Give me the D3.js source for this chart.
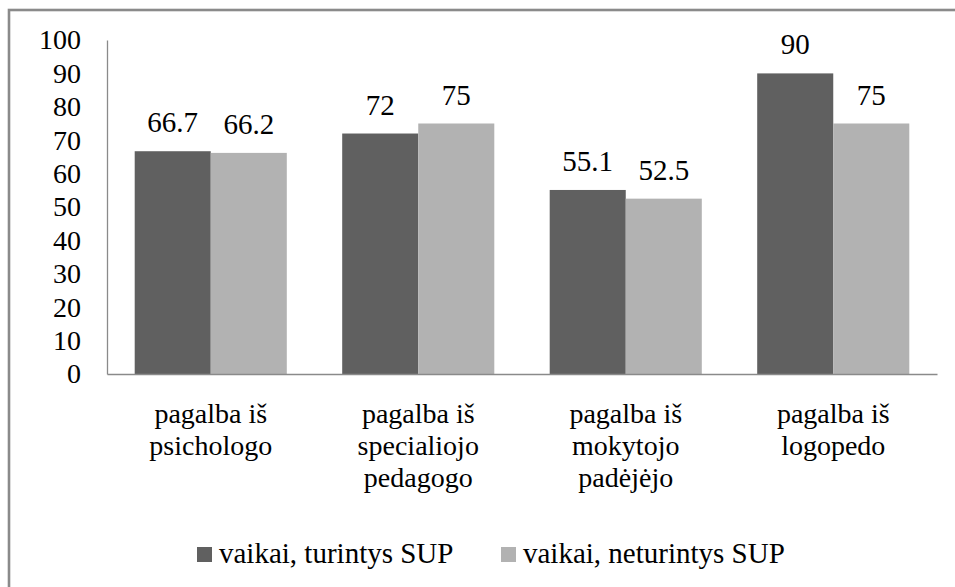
<!DOCTYPE html>
<html>
<head>
<meta charset="utf-8">
<script src="https://cdn.jsdelivr.net/npm/d3@7"></script>
<style>
  html, body { margin: 0; padding: 0; background: #fff; }
  svg { display: block; }
</style>
</head>
<body>
<svg id="chart" width="955" height="587"></svg>
<script>
const categories = [
  ["pagalba iš", "psichologo"],
  ["pagalba iš", "specialiojo", "pedagogo"],
  ["pagalba iš", "mokytojo", "padėjėjo"],
  ["pagalba iš", "logopedo"]
];
const seriesNames = ["vaikai, turintys SUP", "vaikai, neturintys SUP"];
const seriesTurintys = [66.7, 72, 55.1, 90];
const seriesNeturintys = [66.2, 75, 52.5, 75];
const seriesColors = ["#606060", "#b2b2b2"];
const yTicks = [0, 10, 20, 30, 40, 50, 60, 70, 80, 90, 100];

const FONT = "'Liberation Serif', 'Times New Roman', Tinos, 'DejaVu Serif', serif";
const svg = d3.select("#chart").attr("font-family", FONT).style("font-family", FONT);

// outer border
svg.append("rect")
  .attr("x", 9).attr("y", 10)
  .attr("width", 960).attr("height", 600)
  .attr("fill", "#fff")
  .attr("stroke", "#8a8a8a")
  .attr("stroke-width", 2.6);

const plot = { left: 107, right: 937, top: 40, bottom: 374 };

const catIdx = categories.map((d, i) => i);
const x0 = d3.scaleBand().domain(catIdx).range([plot.left, plot.right]).paddingInner(0.267).paddingOuter(0.1335);
const x1 = d3.scaleBand().domain([0, 1]).range([0, x0.bandwidth()]).padding(0);
const y = d3.scaleLinear().domain([0, 100]).range([plot.bottom, plot.top]);

function styleText(sel, size) {
  sel.attr("font-family", FONT).style("font-family", FONT)
     .style("font-size", (size || 28) + "px").attr("fill", "#000");
}

// y axis
const yAxis = d3.axisLeft(y).tickValues(yTicks).tickSize(0).tickPadding(26).tickFormat(d3.format("d"));
const gy = svg.append("g").attr("transform", `translate(${plot.left},0)`).call(yAxis);
gy.attr("font-family", FONT);
gy.select(".domain").attr("stroke", "#8a8a8a").attr("stroke-width", 1.3);
gy.selectAll("text").call(styleText, 28);

// bars
const series = [seriesTurintys, seriesNeturintys];
series.forEach((vals, s) => {
  svg.append("g").selectAll("rect")
    .data(vals)
    .join("rect")
    .attr("x", (d, i) => x0(i) + x1(s))
    .attr("y", d => y(d))
    .attr("width", x1.bandwidth())
    .attr("height", d => y(0) - y(d))
    .attr("fill", seriesColors[s]);
  svg.append("g").selectAll("text")
    .data(vals)
    .join("text")
    .attr("x", (d, i) => x0(i) + x1(s) + x1.bandwidth() / 2)
    .attr("y", d => y(d) - 19)
    .attr("text-anchor", "middle")
    .call(styleText, 29)
    .text(d => String(d));
});

// x axis baseline
const xAxis = d3.axisBottom(x0).tickSize(0).tickFormat(() => "");
const gx = svg.append("g").attr("transform", `translate(0,${plot.bottom})`).call(xAxis);
gx.select(".domain").attr("stroke", "#8a8a8a").attr("stroke-width", 1.3);

// category labels
const catG = svg.append("g");
categories.forEach((lines, i) => {
  const t = catG.append("text")
    .attr("x", x0(i) + x0.bandwidth() / 2)
    .attr("y", 423)
    .attr("text-anchor", "middle")
    .call(styleText, 28);
  lines.forEach((ln, j) => {
    t.append("tspan")
      .attr("x", x0(i) + x0.bandwidth() / 2)
      .attr("dy", j === 0 ? 0 : 32)
      .text(ln);
  });
});

// legend
const legendX = [197, 501];
seriesNames.forEach((name, s) => {
  svg.append("rect")
    .attr("x", legendX[s]).attr("y", 547)
    .attr("width", 15).attr("height", 15)
    .attr("fill", seriesColors[s]);
  svg.append("text")
    .attr("x", legendX[s] + 22).attr("y", 563)
    .call(styleText, 29)
    .text(name);
});
</script>
</body>
</html>
